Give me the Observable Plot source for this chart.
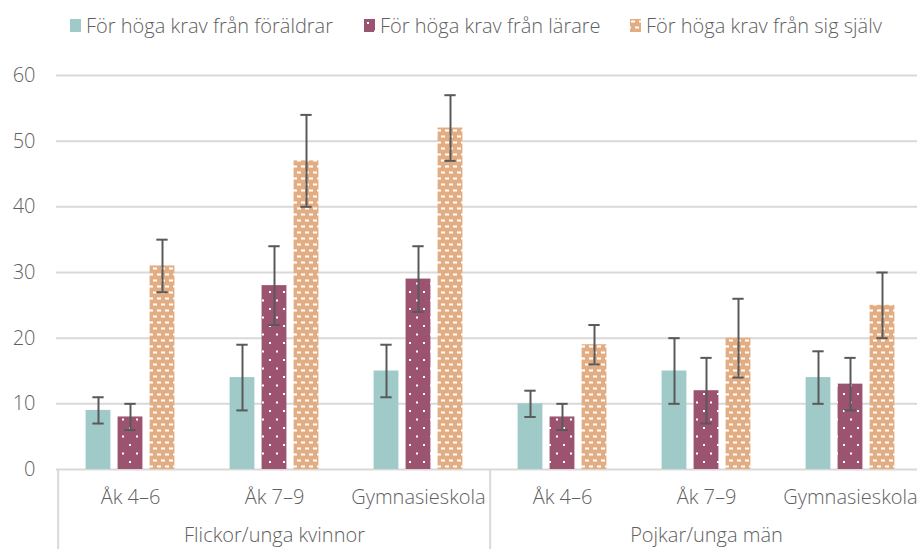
<!DOCTYPE html>
<html>
<head>
<meta charset="utf-8">
<script src="https://cdn.jsdelivr.net/npm/d3@7"></script>
<script src="https://cdn.jsdelivr.net/npm/@observablehq/plot@0.6"></script>
<style>
  html, body { margin: 0; padding: 0; background: #fff; overflow: hidden; }
  body { width: 917px; height: 549px; font-family: "Open Sans", sans-serif; font-weight: 300; color: #5f5f5f; }
  #legend { height: 50px; position: relative; }
  .item { position: absolute; top: 12px; display: flex; align-items: center; font-size: 20px; white-space: nowrap; }
  .sw { width: 11px; height: 13px; margin-right: 5px; }
  svg { overflow: hidden; }
</style>
</head>
<body>
<div id="legend"></div>
<div id="chart"></div>
<script>
const groups = ["Flickor/unga kvinnor", "Pojkar/unga män"];
const ages = ["Åk 4–6", "Åk 7–9", "Gymnasieskola"];
const series = ["För höga krav från föräldrar", "För höga krav från lärare", "För höga krav från sig själv"];
// order: Flickor Åk4-6, Åk7-9, Gymn, Pojkar Åk4-6, Åk7-9, Gymn
const foraldrar = [9, 14, 15, 10, 15, 14];
const foraldrarLow = [7, 9, 11, 8, 10, 10];
const foraldrarHigh = [11, 19, 19, 12, 20, 18];
const larare = [8, 28, 29, 8, 12, 13];
const larareLow = [6, 22, 24, 6, 7, 9];
const larareHigh = [10, 34, 34, 10, 17, 17];
const sigSjalv = [31, 47, 52, 19, 20, 25];
const sigSjalvLow = [27, 40, 47, 16, 14, 20];
const sigSjalvHigh = [35, 54, 57, 22, 26, 30];
const yTicks = [0, 10, 20, 30, 40, 50, 60];

const colors = ["#9fcac8", "#9b5370", "#e3ad83"];
const fills = ["#9fcac8", "url(#dots)", "url(#bricks)"];

const keys = [];
const cats = [];
groups.forEach(g => ages.forEach(a => { keys.push(g + "|" + a); cats.push({key: g + "|" + a, group: g, age: a}); }));

const vals = [foraldrar, larare, sigSjalv];
const lows = [foraldrarLow, larareLow, sigSjalvLow];
const highs = [foraldrarHigh, larareHigh, sigSjalvHigh];
const rows = [];
series.forEach((s, si) => keys.forEach((k, ki) => rows.push({key: k, series: s, si, value: vals[si][ki], low: lows[si][ki], high: highs[si][ki]})));

const defs = `
<defs>
  <pattern id="dots" patternUnits="userSpaceOnUse" width="14" height="17">
    <rect width="14" height="17" fill="${colors[1]}"/>
    <rect x="3" y="3" width="2" height="2" fill="#fff"/>
    <rect x="10" y="11.5" width="2" height="2" fill="#fff"/>
  </pattern>
  <pattern id="bricks" patternUnits="userSpaceOnUse" width="8" height="12">
    <rect width="8" height="12" fill="${colors[2]}"/>
    <rect x="1" y="1.5" width="4" height="2" fill="#fff"/>
    <rect x="5" y="7.5" width="4" height="2" fill="#fff"/>
    <rect x="-3" y="7.5" width="4" height="2" fill="#fff"/>
  </pattern>
</defs>`;

// legend
const legend = document.getElementById("legend");
const lefts = [70, 364, 630];
series.forEach((s, i) => {
  const d = document.createElement("div");
  d.className = "item";
  d.style.left = lefts[i] + "px";
  d.innerHTML = `<svg class="sw" width="11" height="13">${i === 0 ? defs : ""}<rect width="11" height="13" fill="${fills[i]}"/></svg><span>${s}</span>`;
  legend.appendChild(d);
});

const W = 917, H = 499, mL = 56, mR = -7, mT = 25, mB = 80;
const bw = (W - mL - mR) / keys.length;
const barW = 25.5, step = 32, capW = 12;
const barInset = (bw - barW) / 2;
const capInset = (bw - capW) / 2;
const firstKeys = groups.map(g => g + "|" + ages[0]);
const midCats = cats.filter(c => c.age === ages[1]);

const marks = [
  Plot.ruleY(yTicks, {stroke: "#d9d9d9", strokeWidth: 2}),
  Plot.axisY(yTicks, {tickSize: 0, tickPadding: 21, fontSize: 20, fill: "#5f5f5f", tickFormat: d => d, label: null}),
  Plot.ruleX(firstKeys, {x: d => d, dx: -bw / 2, y1: 0, y2: 0, insetBottom: -80, stroke: "#d9d9d9", strokeWidth: 2}),
  Plot.text(cats, {x: "key", text: "age", frameAnchor: "bottom", dy: 28, lineAnchor: "middle", fontSize: 20, fill: "#5f5f5f"}),
  Plot.text(midCats, {x: "key", text: "group", frameAnchor: "bottom", dy: 66, lineAnchor: "middle", fontSize: 20, fill: "#5f5f5f"})
];
series.forEach((s, si) => {
  const data = rows.filter(r => r.si === si);
  const dx = (si - 1) * step;
  marks.push(Plot.barY(data, {x: "key", y: "value", fill: fills[si], insetLeft: barInset, insetRight: barInset, dx}));
});
series.forEach((s, si) => {
  const data = rows.filter(r => r.si === si);
  const dx = (si - 1) * step;
  marks.push(Plot.ruleX(data, {x: "key", y1: "low", y2: "high", stroke: "#595959", strokeWidth: 2, dx}));
  marks.push(Plot.tickY(data, {x: "key", y: "low", stroke: "#595959", strokeWidth: 2, dx, insetLeft: capInset, insetRight: capInset}));
  marks.push(Plot.tickY(data, {x: "key", y: "high", stroke: "#595959", strokeWidth: 2, dx, insetLeft: capInset, insetRight: capInset}));
});

const plot = Plot.plot({
  width: W, height: H,
  marginLeft: mL, marginRight: mR, marginTop: mT, marginBottom: mB,
  style: {fontFamily: "'Open Sans', sans-serif", fontWeight: 300, background: "#fff", overflow: "hidden"},
  x: {type: "band", domain: keys, padding: 0, axis: null},
  y: {domain: [0, 60], axis: null},
  marks
});
document.getElementById("chart").appendChild(plot);
</script>
</body>
</html>
